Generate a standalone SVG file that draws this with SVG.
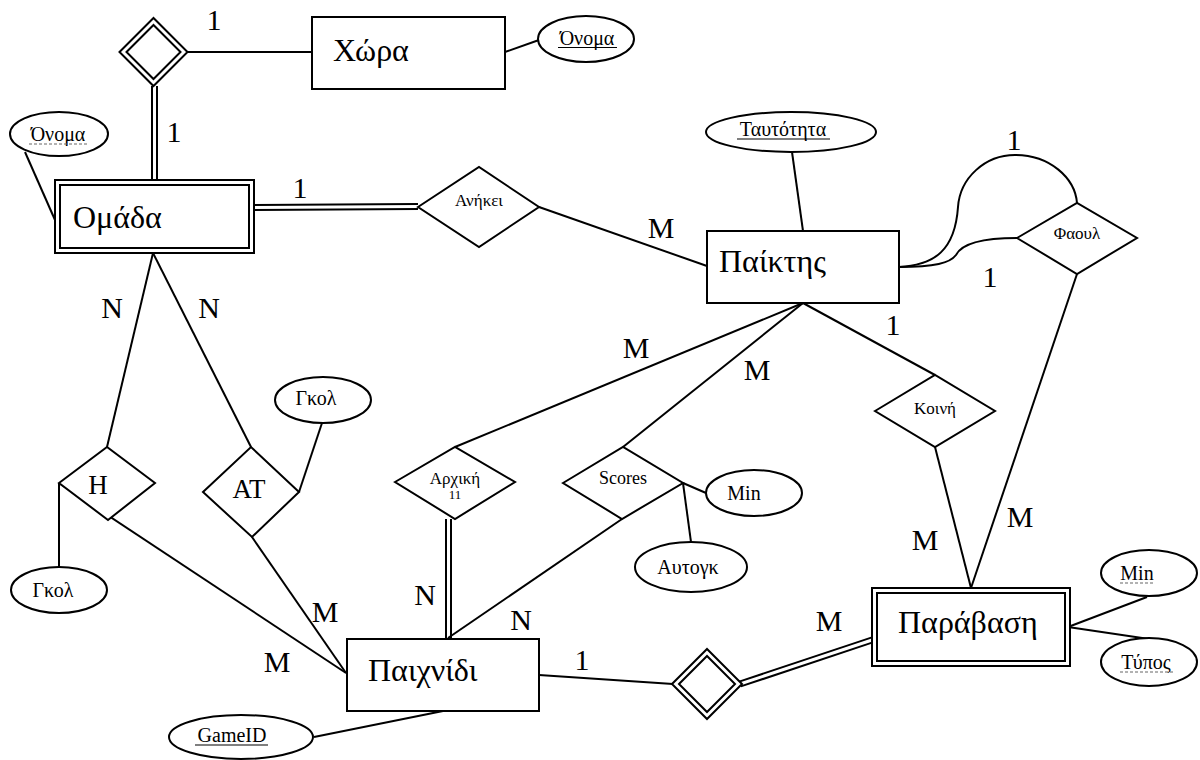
<svg xmlns="http://www.w3.org/2000/svg" width="1200" height="760" viewBox="0 0 1200 760">
<style>
  .s { fill: none; stroke: #000; stroke-width: 2; }
  .sw { fill: #fff; stroke: #000; stroke-width: 2; }
  text { font-family: "Liberation Serif", "DejaVu Serif", serif; fill: #000; }
  .ent { font-size: 32px; }
  .lbl { font-size: 30px; text-anchor: middle; }
  .att { font-size: 20px; text-anchor: middle; }
  .rel { font-size: 17px; text-anchor: middle; }
  .big { font-size: 27px; text-anchor: middle; }
  .ul { stroke: #000; stroke-width: 1.2; }
  .dul { stroke: #666; stroke-width: 1.2; stroke-dasharray: 3 2; }
</style>
<rect width="1200" height="760" fill="#fff"/>

<g id="connectors">
  <line class="s" x1="188" y1="52" x2="312" y2="52"/>
  <line class="s" x1="505" y1="52" x2="539" y2="40"/>
  <line class="s" x1="152" y1="86" x2="152" y2="180"/>
  <line class="s" x1="157" y1="86" x2="157" y2="180"/>
  <line class="s" x1="25" y1="152" x2="55" y2="220"/>
  <line class="s" x1="254" y1="205" x2="418" y2="204"/>
  <line class="s" x1="254" y1="210" x2="418" y2="209"/>
  <line class="s" x1="539" y1="207" x2="707" y2="266"/>
  <line class="s" x1="792" y1="152" x2="803" y2="231"/>
  <path class="s" d="M899,267 C935,265 955,250 958,207 C960,178 985,155 1015,155 C1050,155 1075,178 1077,203"/>
  <path class="s" d="M899,267 C935,267 950,263 956,255 C962,243 985,238 1017,238"/>
  <line class="s" x1="1077" y1="274" x2="971" y2="588"/>
  <line class="s" x1="803" y1="303" x2="935" y2="375"/>
  <line class="s" x1="935" y1="447" x2="971" y2="588"/>
  <line class="s" x1="1068" y1="627" x2="1147" y2="597"/>
  <line class="s" x1="1068" y1="627" x2="1149" y2="639"/>
  <line class="s" x1="153" y1="253" x2="107" y2="447"/>
  <line class="s" x1="153" y1="253" x2="251" y2="447"/>
  <line class="s" x1="59" y1="483" x2="59" y2="567"/>
  <line class="s" x1="59" y1="483" x2="346" y2="673"/>
  <line class="s" x1="252" y1="537" x2="346" y2="673"/>
  <line class="s" x1="299" y1="492" x2="322" y2="423"/>
  <line class="s" x1="443" y1="711" x2="314" y2="737"/>
  <line class="s" x1="539" y1="675" x2="673" y2="684"/>
  <line class="s" x1="739.2" y1="681.6" x2="871.2" y2="637.6"/>
  <line class="s" x1="740.8" y1="686.4" x2="872.8" y2="642.4"/>
  <line class="s" x1="803" y1="303" x2="455" y2="447"/>
  <line class="s" x1="803" y1="303" x2="623" y2="447"/>
  <line class="s" x1="683" y1="483" x2="706" y2="493"/>
  <line class="s" x1="683" y1="483" x2="691" y2="542"/>
  <line class="s" x1="448" y1="638" x2="622" y2="519"/>
  <line class="s" x1="446" y1="519" x2="446" y2="639"/>
  <line class="s" x1="451" y1="519" x2="451" y2="639"/>
</g>

<g id="labels">
  <text class="lbl" x="214" y="30">1</text>
  <text class="lbl" x="174" y="142">1</text>
  <text class="lbl" x="300" y="198">1</text>
  <text class="lbl" x="661" y="238">M</text>
  <text class="lbl" x="1014" y="150">1</text>
  <text class="lbl" x="990" y="287">1</text>
  <text class="lbl" x="893" y="335">1</text>
  <text class="lbl" x="636" y="358">M</text>
  <text class="lbl" x="757" y="380">M</text>
  <text class="lbl" x="112" y="318">N</text>
  <text class="lbl" x="209" y="318">N</text>
  <text class="lbl" x="1020" y="527">M</text>
  <text class="lbl" x="925" y="550">M</text>
  <text class="lbl" x="425" y="605">N</text>
  <text class="lbl" x="521" y="630">N</text>
  <text class="lbl" x="325" y="622">M</text>
  <text class="lbl" x="277" y="672">M</text>
  <text class="lbl" x="582" y="670">1</text>
  <text class="lbl" x="829" y="631">M</text>
</g>

<g id="weakrel-xwra">
  <polygon class="sw" points="119.5,52 153.5,18 187.5,52 153.5,86"/>
  <polygon class="s" points="126.5,52 153.5,25 180.5,52 153.5,79"/>
</g>

<g id="xwra">
  <rect class="sw" x="312" y="17" width="193" height="72"/>
  <text class="ent" x="333" y="61">Χώρα</text>
</g>

<g id="xwra-onoma">
  <ellipse class="sw" cx="586" cy="39" rx="48" ry="23"/>
  <text class="att" x="587" y="45">Όνομα</text>
  <line class="ul" x1="558" y1="47.5" x2="617" y2="47.5"/>
</g>

<g id="omada">
  <rect class="sw" x="55" y="180" width="199" height="73"/>
  <rect class="s" x="60" y="185" width="189" height="63"/>
  <text class="ent" x="73" y="228">Ομάδα</text>
</g>

<g id="omada-onoma">
  <ellipse class="sw" cx="59" cy="134" rx="49" ry="22"/>
  <text class="att" x="58" y="141">Όνομα</text>
  <line class="dul" x1="29" y1="144" x2="88" y2="144"/>
</g>

<g id="anhkei">
  <polygon class="sw" points="418,207 479,167 539,207 479,247"/>
  <text class="rel" x="479" y="206">Ανήκει</text>
</g>

<g id="paiktis">
  <rect class="sw" x="707" y="231" width="192" height="72"/>
  <text class="ent" x="719" y="272">Παίκτης</text>
</g>

<g id="tautotita">
  <ellipse class="sw" cx="791" cy="132" rx="85" ry="20"/>
  <text class="att" x="783" y="136">Ταυτότητα</text>
  <line class="ul" x1="737" y1="139" x2="830" y2="139"/>
</g>

<g id="faoul">
  <polygon class="sw" points="1017,238 1077,203 1137,238 1077,274"/>
  <text class="rel" x="1077" y="239">Φαουλ</text>
</g>

<g id="koinh">
  <polygon class="sw" points="875,411 935,375 995,411 935,447"/>
  <text class="rel" x="935" y="414">Κοινή</text>
</g>

<g id="paravasi">
  <rect class="sw" x="872" y="588" width="198" height="78"/>
  <rect class="s" x="877" y="593" width="188" height="68"/>
  <text class="ent" x="898" y="633">Παράβαση</text>
</g>

<g id="paravasi-min">
  <ellipse class="sw" cx="1149" cy="573" rx="48" ry="23"/>
  <text class="att" x="1137" y="580">Min</text>
  <line class="dul" x1="1120" y1="583" x2="1155" y2="583"/>
</g>

<g id="paravasi-typos">
  <ellipse class="sw" cx="1149" cy="662" rx="48" ry="24"/>
  <text class="att" x="1146" y="669">Τύπος</text>
  <line class="dul" x1="1120" y1="672" x2="1173" y2="672"/>
</g>

<g id="h">
  <polygon class="sw" points="59,483 107,447 155,483 108,520"/>
  <text class="big" x="98" y="494">H</text>
</g>

<g id="h-gkol">
  <ellipse class="sw" cx="59" cy="590" rx="48" ry="23"/>
  <text class="att" x="53" y="597">Γκολ</text>
</g>

<g id="at">
  <polygon class="sw" points="203,492 251,447 299,492 252,537"/>
  <text class="big" x="249" y="498">AT</text>
</g>

<g id="at-gkol">
  <ellipse class="sw" cx="323" cy="400" rx="48" ry="23"/>
  <text class="att" x="316" y="405">Γκολ</text>
</g>

<g id="arxikh">
  <polygon class="sw" points="395,482 455,447 515,482 455,519"/>
  <text class="rel" x="455" y="484">Αρχική</text>
  <text class="rel" x="455" y="499" style="font-size:13px">11</text>
</g>

<g id="scores">
  <polygon class="sw" points="563,483 623,447 683,483 622,519"/>
  <text class="rel" x="623" y="484" style="font-size:18px">Scores</text>
</g>

<g id="scores-min">
  <ellipse class="sw" cx="754" cy="493" rx="48" ry="23"/>
  <text class="att" x="744" y="500">Min</text>
</g>

<g id="scores-autogk">
  <ellipse class="sw" cx="691" cy="567" rx="56" ry="25"/>
  <text class="att" x="688" y="574">Αυτογκ</text>
</g>

<g id="paixnidi">
  <rect class="sw" x="347" y="639" width="192" height="72"/>
  <text class="ent" x="368" y="681">Παιχνίδι</text>
</g>

<g id="gameid">
  <ellipse class="sw" cx="241" cy="737" rx="72" ry="22"/>
  <text class="att" x="232" y="742">GameID</text>
  <line class="ul" x1="195" y1="745" x2="268" y2="745"/>
</g>

<g id="weakrel-paravasi">
  <polygon class="sw" points="672,684 707,649 742,684 707,719"/>
  <polygon class="s" points="679,684 707,656 735,684 707,712"/>
</g>
</svg>
